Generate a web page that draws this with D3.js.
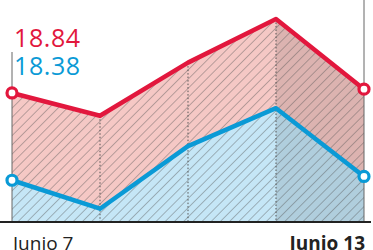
<!DOCTYPE html>
<html>
<head>
<meta charset="utf-8">
<script src="https://cdn.jsdelivr.net/npm/d3@7/dist/d3.min.js"></script>
<style>
  body { margin: 0; background: #fff; }
  svg { display: block; }
</style>
</head>
<body>
<div id="chart"></div>
<script>
// data
const days = ["Junio 7", "Junio 8", "Junio 9", "Junio 12", "Junio 13"];
const venta = [18.84, 18.72, 19.00, 19.23, 18.86];
const compra = [18.38, 18.23, 18.56, 18.76, 18.40];
const shownTicks = ["Junio 7", "Junio 13"];

const width = 373;
const height = 250;
const red = "#e2173d";
const blue = "#0a9ad6";

const svg = d3.select("#chart")
    .append("svg")
    .attr("width", width)
    .attr("height", height);

const x = d3.scalePoint()
    .domain(days)
    .range([12, 364]);

const y = d3.scaleLinear()
    .domain([18.16, 19.33])
    .range([222, 0]);

const base = y.range()[0];

// hatch pattern
const defs = svg.append("defs");
defs.append("pattern")
    .attr("id", "hatch")
    .attr("patternUnits", "userSpaceOnUse")
    .attr("width", 6.5)
    .attr("height", 6.5)
    .attr("patternTransform", "rotate(45)")
  .append("line")
    .attr("x1", 0).attr("y1", 0)
    .attr("x2", 0).attr("y2", 6.5)
    .attr("stroke", "#555")
    .attr("stroke-width", 0.9)
    .attr("stroke-opacity", 0.85);

const area = d3.area()
    .x((d, i) => x(days[i]))
    .y0(base)
    .y1(d => y(d));

const line = d3.line()
    .x((d, i) => x(days[i]))
    .y(d => y(d));

defs.append("clipPath")
    .attr("id", "redClip")
  .append("path")
    .attr("d", area(venta));

svg.append("path")
    .attr("d", area(venta))
    .attr("fill", "#f5c8c5");

svg.append("path")
    .attr("d", area(compra))
    .attr("fill", "#c5e6f6");

// darker last day
svg.append("rect")
    .attr("clip-path", "url(#redClip)")
    .attr("x", x(days[3]))
    .attr("y", 0)
    .attr("width", x(days[4]) - x(days[3]))
    .attr("height", base)
    .attr("fill", "#000")
    .attr("fill-opacity", 0.1);

svg.append("path")
    .attr("d", area(venta))
    .attr("fill", "url(#hatch)");

// dotted day lines
svg.selectAll(".grid")
    .data(days.slice(1, 4))
    .enter().append("line")
    .attr("class", "grid")
    .attr("x1", d => x(d))
    .attr("x2", d => x(d))
    .attr("y1", d => y(venta[days.indexOf(d)]))
    .attr("y2", base)
    .attr("stroke", "#555")
    .attr("stroke-width", 1)
    .attr("stroke-dasharray", "1.5,2");

// frame lines
svg.append("line")
    .attr("x1", x(days[0])).attr("x2", x(days[0]))
    .attr("y1", 52).attr("y2", base)
    .attr("stroke", "#666").attr("stroke-width", 1);
svg.append("line")
    .attr("x1", x(days[4])).attr("x2", x(days[4]))
    .attr("y1", 0).attr("y2", base)
    .attr("stroke", "#666").attr("stroke-width", 1);

svg.append("path")
    .attr("d", line(compra))
    .attr("fill", "none")
    .attr("stroke", blue)
    .attr("stroke-width", 4.5)
    .attr("stroke-linejoin", "round");

svg.append("path")
    .attr("d", line(venta))
    .attr("fill", "none")
    .attr("stroke", red)
    .attr("stroke-width", 4.5)
    .attr("stroke-linejoin", "round");

// end markers
[[venta, red], [compra, blue]].forEach(([vals, c]) => {
    svg.selectAll(null)
        .data([0, vals.length - 1])
        .enter().append("circle")
        .attr("cx", i => x(days[i]))
        .attr("cy", i => y(vals[i]))
        .attr("r", 5)
        .attr("fill", "#fff")
        .attr("stroke", c)
        .attr("stroke-width", 3.2);
});

// baseline
svg.append("line")
    .attr("x1", 0).attr("x2", 371)
    .attr("y1", base).attr("y2", base)
    .attr("stroke", "#222")
    .attr("stroke-width", 2);

// value labels
svg.append("text")
    .attr("x", 14).attr("y", 47)
    .attr("fill", red)
    .style("font", "25px 'Open Sans'")
    .style("letter-spacing", "0.6px")
    .text(venta[0].toFixed(2));
svg.append("text")
    .attr("x", 14).attr("y", 75)
    .attr("fill", blue)
    .style("font", "25px 'Open Sans'")
    .style("letter-spacing", "0.6px")
    .text(compra[0].toFixed(2));

// x labels
svg.selectAll(".tick")
    .data(shownTicks)
    .enter().append("text")
    .attr("class", "tick")
    .attr("x", (d, i) => i === 0 ? x(d) + 1 : x(d) + 1)
    .attr("y", 250)
    .attr("text-anchor", (d, i) => i === 0 ? "start" : "end")
    .attr("fill", "#222")
    .style("font", (d, i) => (i === 0 ? "400" : "700") + " 19px 'Open Sans'")
    .text(d => d);
</script>
</body>
</html>
